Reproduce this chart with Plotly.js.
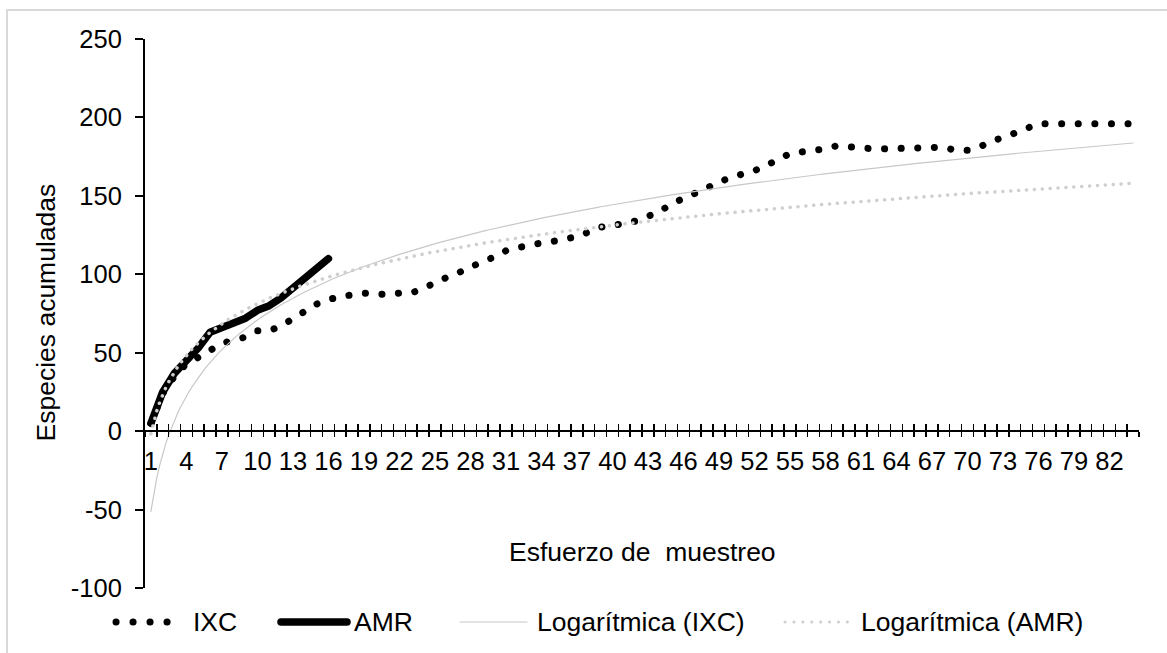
<!DOCTYPE html>
<html>
<head>
<meta charset="utf-8">
<script src="https://cdn.plot.ly/plotly-3.0.1.min.js"></script>
<style>
  html, body { margin: 0; padding: 0; background: #fff; overflow: hidden; }
  #chart { width: 1167px; height: 653px; }
  /* round dots for the dotted series and round ends for the thick line */
  .scatterlayer .js-line, .shapelayer path { stroke-linecap: round; stroke-linejoin: round; }
</style>
</head>
<body>
<div id="chart"></div>
<script>
// Sampling effort (x categories)
const categories = [
  1, 2, 3, 4, 5, 6, 7, 8, 9, 10, 11, 12, 13, 14, 15, 16, 17, 18, 19, 20, 21,
  22, 23, 24, 25, 26, 27, 28, 29, 30, 31, 32, 33, 34, 35, 36, 37, 38, 39, 40, 41, 42,
  43, 44, 45, 46, 47, 48, 49, 50, 51, 52, 53, 54, 55, 56, 57, 58, 59, 60, 61, 62, 63,
  64, 65, 66, 67, 68, 69, 70, 71, 72, 73, 74, 75, 76, 77, 78, 79, 80, 81, 82, 83, 84
];

// Accumulated species, site IXC
const ixcValues = [
  5, 24, 35, 43, 47, 52, 56, 58, 60, 64, 64, 67, 72, 76, 81, 84, 86, 87, 88, 87, 87,
  88, 88, 91, 95, 98, 101, 105, 108, 111, 115, 117, 119, 120, 121, 122, 124, 127, 130, 131, 132, 134,
  137, 140, 145, 148, 152, 155, 159, 162, 164, 166, 169, 173, 177, 178, 178, 180, 182, 181, 180, 180, 180,
  180, 180, 180, 181, 181, 179, 179, 181, 185, 187, 190, 194, 196, 196, 196, 195, 195, 196, 196, 196, 196
];

// Accumulated species, site AMR
const amrValues = [5, 25, 37, 45, 53, 63, 66, 69, 72, 77, 80, 85, 91, 97, 104, 110];

const seriesNames = ['IXC', 'AMR', 'Logarítmica (IXC)', 'Logarítmica (AMR)'];
const xTickLabels = [1, 4, 7, 10, 13, 16, 19, 22, 25, 28, 31, 34, 37, 40, 43, 46, 49, 52, 55, 58, 61, 64, 67, 70, 73, 76, 79, 82];
const yTickVals = [-100, -50, 0, 50, 100, 150, 200, 250];

const FONT = 'Liberation Sans, Arial, sans-serif';
const W = 1167, H = 653;
const M = { l: 145, r: 28, t: 39, b: 65 };
const plotW = W - M.l - M.r, plotH = H - M.t - M.b;
const yRange = [yTickVals[0], yTickVals[yTickVals.length - 1]];
const xRange = [categories[0] - 0.5, categories[categories.length - 1] + 0.5];
const zeroPos = (0 - yRange[0]) / (yRange[1] - yRange[0]);

// pixel -> paper helpers for legend / frame decorations
const px = x => (x - M.l) / plotW;
const py = y => (M.t + plotH - y) / plotH;

// least-squares fit y = a ln(x) + b
function logFit(ys) {
  const xs = ys.map((_, i) => Math.log(categories[i]));
  const n = ys.length;
  const mx = xs.reduce((s, v) => s + v, 0) / n;
  const my = ys.reduce((s, v) => s + v, 0) / n;
  let sxy = 0, sxx = 0;
  for (let i = 0; i < n; i++) { sxy += (xs[i] - mx) * (ys[i] - my); sxx += (xs[i] - mx) ** 2; }
  const a = sxy / sxx;
  return { a, b: my - a * mx };
}
// trend curves drawn across the whole category axis
const trendX = [];
for (let x = categories[0]; x <= categories[categories.length - 1] + 1e-9; x += 0.25) trendX.push(x);
const fitIxc = logFit(ixcValues);
const fitAmr = logFit(amrValues);
const trendIxc = trendX.map(x => fitIxc.a * Math.log(x) + fitIxc.b);
const trendAmr = trendX.map(x => fitAmr.a * Math.log(x) + fitAmr.b);

const traces = [
  { x: categories, y: ixcValues, name: seriesNames[0], type: 'scatter', mode: 'lines',
    line: { color: '#000', width: 7, dash: '0.1px,16.5px' } },
  { x: categories.slice(0, amrValues.length), y: amrValues, name: seriesNames[1], type: 'scatter', mode: 'lines',
    line: { color: '#000', width: 7.5 } },
  { x: trendX, y: trendIxc, name: seriesNames[2], type: 'scatter', mode: 'lines', xaxis: 'x2',
    line: { color: '#c8c8c8', width: 1.2 } },
  { x: trendX, y: trendAmr, name: seriesNames[3], type: 'scatter', mode: 'lines', xaxis: 'x2',
    line: { color: '#cfcfcf', width: 3.5, dash: '0.1px,7.8px' } }
];

const tickFont = { family: FONT, size: 25.5, color: '#000' };
const textFont = { family: FONT, size: 26.5, color: '#000' };

// custom legend row
const legendY = 622;
const legendItems = [
  { x0: 116, x1: 167.5, text: 191, line: { color: '#000', width: 7, dash: '0.1px,16.9px' } },
  { x0: 281, x1: 347, text: 352, line: { color: '#000', width: 7.5 } },
  { x0: 460, x1: 527, text: 535, line: { color: '#c8c8c8', width: 1.2 } },
  { x0: 785, x1: 856, text: 859, line: { color: '#cfcfcf', width: 3, dash: '0.1px,8.8px' } }
];

// outer chart frame (only its top and left edges fall inside the page)
const framePath = 'M ' + px(7) + ',' + py(720) + ' L ' + px(7) + ',' + py(10) + ' L ' + px(1220) + ',' + py(10);
const shapes = [
  { type: 'path', xref: 'paper', yref: 'paper', path: framePath,
    line: { color: '#d9d9d9', width: 2 }, layer: 'below' }
].concat(legendItems.map(it => ({
  type: 'line', xref: 'paper', yref: 'paper', x0: px(it.x0), x1: px(it.x1), y0: py(legendY), y1: py(legendY),
  line: it.line
})));

const annotations = legendItems.map((it, i) => ({
  xref: 'paper', yref: 'paper', x: px(it.text), y: py(legendY), xanchor: 'left', yanchor: 'middle',
  text: seriesNames[i], showarrow: false, font: textFont
})).concat([
  { xref: 'paper', yref: 'paper', x: px(642), y: py(552), xanchor: 'center', yanchor: 'middle',
    text: 'Esfuerzo de\u00a0 muestreo', showarrow: false, font: textFont },
  { xref: 'paper', yref: 'paper', x: px(45.5), y: py(313), xanchor: 'center', yanchor: 'middle',
    text: 'Especies acumuladas', textangle: -90, showarrow: false, font: textFont }
]);

const layout = {
  width: W, height: H, margin: M,
  paper_bgcolor: '#fff', plot_bgcolor: '#fff',
  showlegend: false,
  font: { family: FONT, color: '#000' },
  xaxis: {
    range: xRange, anchor: 'free', position: zeroPos,
    tickmode: 'array', tickvals: xTickLabels, ticktext: xTickLabels.map(String),
    ticks: '', tickfont: tickFont, ticklabelstandoff: 7,
    showline: true, linecolor: '#000', linewidth: 2,
    showgrid: false, zeroline: false,
    minor: { tickmode: 'linear', tick0: 0.5, dtick: 1, ticks: 'outside', ticklen: 5, tickwidth: 1.5, tickcolor: '#000', showgrid: false }
  },
  xaxis2: {
    range: xRange, overlaying: 'x', anchor: 'free', position: zeroPos,
    tickmode: 'linear', tick0: 0.5, dtick: 1, ticks: 'inside', ticklen: 7, tickwidth: 1.5, tickcolor: '#000',
    showticklabels: false, showline: false, showgrid: false, zeroline: false
  },
  yaxis: {
    range: yRange, tickmode: 'array', tickvals: yTickVals, ticktext: yTickVals.map(String),
    ticks: 'outside', ticklen: 8, tickwidth: 2, tickcolor: '#000', tickfont: tickFont, ticklabelstandoff: 8,
    showline: true, linecolor: '#000', linewidth: 2, showgrid: false, zeroline: false
  },
  shapes, annotations
};

Plotly.newPlot('chart', traces, layout, { displayModeBar: false, staticPlot: true });
</script>
</body>
</html>
